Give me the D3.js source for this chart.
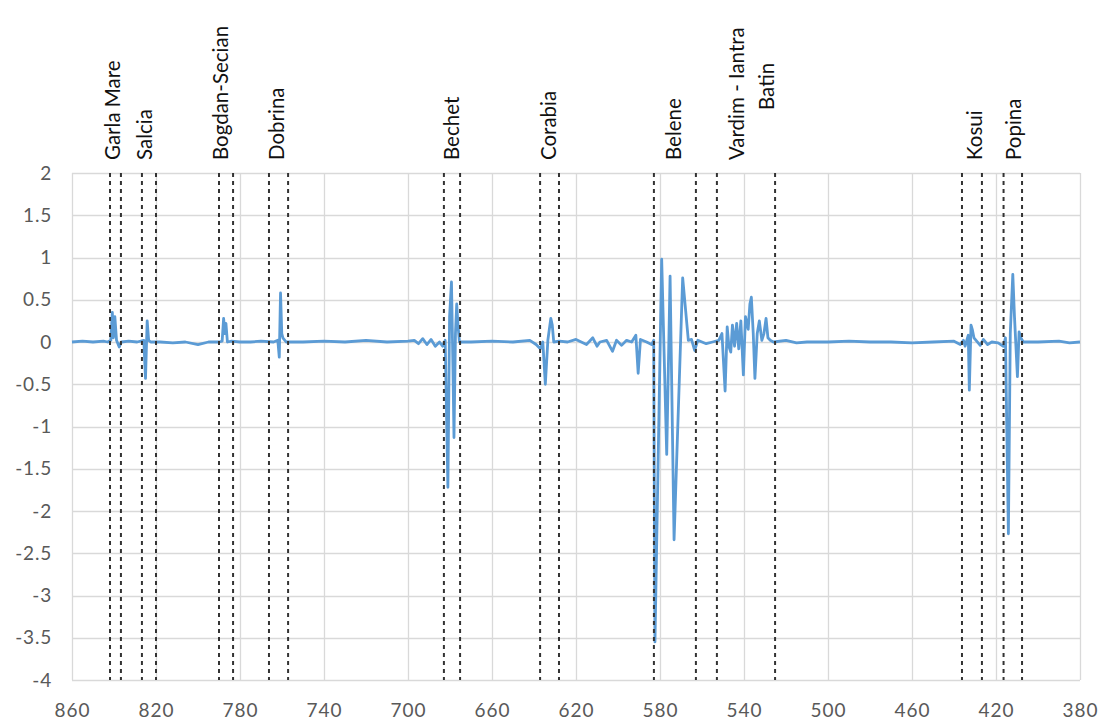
<!DOCTYPE html>
<html>
<head>
<meta charset="utf-8">
<script src="https://cdn.jsdelivr.net/npm/d3@7"></script>
<style>
  html, body { margin: 0; padding: 0; background: #fff; }
  svg { display: block; }
  .tick text { font-family: Lato, "Open Sans", sans-serif; fill: #595959; }
</style>
</head>
<body>
<svg id="chart" width="1102" height="724"></svg>
<script>
// river km (x) and bed level change (y)
const km = [
  860, 855, 850, 845, 843,
  841.5, 840.8, 840.3, 839.6, 838.8, 837.5, 836.5, 833, 829,
  825.8, 825.0, 824.2, 823.5, 822.5, 818, 812, 806, 800, 795, 790,
  788.5, 787.8, 787.2, 786.7, 786, 784, 780, 775, 770, 764,
  762, 761.3, 760.7, 760.1, 759.6, 758, 750, 740, 730, 720, 710, 700,
  697, 695, 693, 691, 689, 687, 685, 683.5,
  682.3, 681.0, 680.2, 679.3, 678.6, 678.1, 677.4, 676.8, 676.2, 675.5,
  670, 660, 650, 642, 639, 637, 635.8,
  634.6, 633.4, 632.0, 631.3, 630.6, 628, 624, 620, 615, 612, 610,
  608.6, 605.4, 602.6, 600.7, 598.3, 595.9, 593.5, 591.5, 590.4, 589.3, 586.4, 584.0,
  583.0, 582.4, 579.2, 576.8, 575.2, 573.3, 569.2, 566.5, 565, 563.5, 562, 558, 555, 552,
  550.5, 549.0, 548.0, 547.2, 546.3, 545.5, 544.5, 543.5, 542.5, 541.5, 540.3, 539.3,
  538, 537.2, 536.5, 535.6, 534.8, 533.7, 532.7, 531.5, 530.5, 529.5, 528.6, 527.5, 526,
  520, 515, 510, 500, 490, 480, 470, 460, 450, 440,
  437, 435.5, 434.7, 433.2, 432.7, 431.9, 431.3, 430.5, 429.5, 427.5, 426, 424, 422, 419,
  416.5, 415.5, 414.1, 413.2, 412.0, 411.2, 409.8, 409.0, 408.2, 407, 400, 390, 385, 380
];
const dz = [
  0, 0.01, 0, 0.01, 0,
  0.02, 0.35, 0.05, 0.3, 0.02, -0.06, 0, 0.01, 0,
  0.02, -0.43, 0.25, 0.02, 0, 0, -0.01, 0, -0.03, 0, 0,
  0.01, 0.28, 0.1, 0.22, 0, 0.01, 0, 0, 0.01, 0,
  0.02, -0.18, 0.58, 0.1, 0.05, 0, 0, 0.01, 0, 0.02, 0, 0.01,
  0.02, -0.02, 0.04, -0.03, 0.03, -0.05, 0, -0.05,
  0.02, -1.72, 0.3, 0.71, -0.3, -1.13, 0.1, 0.45, 0.2, 0,
  0, 0.01, 0, 0.02, -0.03, -0.08, 0,
  -0.5, 0.02, 0.28, 0.2, 0, 0.01, 0, 0.03, -0.03, 0.05, -0.05,
  0, 0.02, -0.11, 0.02, -0.04, 0.02, 0, 0.08, -0.37, 0.03, 0, -0.03,
  0.02, -3.55, 0.98, -1.33, 0.78, -2.34, 0.76, 0.02, 0.03, -0.1, 0.02, -0.02, 0, 0.02,
  0.1, -0.58, 0.18, -0.05, -0.12, 0.2, -0.05, 0.22, -0.08, 0.25, -0.39, 0.3,
  0.15, 0.45, 0.53, 0.1, -0.43, 0.1, 0.25, 0.02, 0.1, 0.28, 0.05, 0.02, 0,
  0.02, -0.01, 0, 0, 0.01, 0, 0, -0.01, 0, 0.01,
  -0.03, 0.02, -0.05, 0.08, -0.57, 0.2, 0.15, 0.05, 0.02, -0.04, 0.03, -0.03, 0, -0.01,
  -0.05, 0.05, -2.27, 0.1, 0.8, 0.3, -0.41, 0.12, 0.05, 0, 0, 0.01, -0.01, 0
];

// dashed reference lines (river km)
const bounds = [841.9, 836.7, 826.7, 820, 790, 783.3, 766.2, 757.1, 682.9, 675.2,
  637.1, 628.1, 582.9, 562.9, 552.9, 525.2, 436.2, 426.7, 416.4, 407.6];

// site names and km of their labels
const siteNames = ['Garla Mare', 'Salcia', 'Bogdan-Secian', 'Dobrina', 'Bechet', 'Corabia',
  'Belene', 'Vardim - Iantra', 'Batin', 'Kosui', 'Popina'];
const siteKm = [840.5, 825.2, 789.0, 762.4, 679.0, 632.9, 573.3, 543.3, 529.0, 430.0, 411.4];

const xTicks = d3.range(860, 379, -40);
const yTicks = d3.range(-4, 2.01, 0.5);

const margin = {top: 173, left: 72, right: 22, bottom: 44};
const svg = d3.select('#chart');
const W = +svg.attr('width'), H = +svg.attr('height');

const x = d3.scaleLinear().domain([860, 380]).range([margin.left, W - margin.right]);
const y = d3.scaleLinear().domain([-4, 2]).range([H - margin.bottom, margin.top]);

svg.append('rect').attr('width', W).attr('height', H).attr('fill', '#fff');

// grid
const grid = svg.append('g').attr('stroke', '#d9d9d9').attr('stroke-width', 1.3);
grid.selectAll('.hg').data(yTicks).join('line')
    .attr('x1', x(860)).attr('x2', x(380))
    .attr('y1', d => Math.round(y(d)) + 0.5).attr('y2', d => Math.round(y(d)) + 0.5);
grid.selectAll('.vg').data(xTicks).join('line')
    .attr('y1', y(2)).attr('y2', y(-4))
    .attr('x1', d => Math.round(x(d)) + 0.5).attr('x2', d => Math.round(x(d)) + 0.5);

// axes (labels only)
const yAxis = d3.axisLeft(y).tickValues(yTicks).tickSize(0).tickPadding(20)
    .tickFormat(d => String(+d.toFixed(1)));
svg.append('g').attr('transform', `translate(${margin.left},0)`).call(yAxis)
    .call(g => g.select('.domain').remove())
    .selectAll('text').style('font-size', '19px').style('letter-spacing', '0.8px');

const xAxis = d3.axisBottom(x).tickValues(xTicks).tickSize(0).tickPadding(24)
    .tickFormat(d => String(d));
svg.append('g').attr('transform', `translate(0,${y(-4)})`).call(xAxis)
    .call(g => g.select('.domain').remove())
    .selectAll('text').style('font-size', '19px').style('letter-spacing', '1px');

// series
const pts = km.map((k, i) => [k, dz[i]]);
const line = d3.line().x(d => x(d[0])).y(d => y(d[1]));
svg.append('path').datum(pts)
    .attr('d', line)
    .attr('fill', 'none')
    .attr('stroke', '#5b9bd5')
    .attr('stroke-width', 2.8)
    .attr('stroke-linejoin', 'round');

// dashed site boundaries
svg.append('g').selectAll('line').data(bounds).join('line')
    .attr('x1', d => x(d)).attr('x2', d => x(d))
    .attr('y1', y(2)).attr('y2', y(-4))
    .attr('stroke', '#333')
    .attr('stroke-width', 2)
    .attr('stroke-dasharray', '4,4');

// site labels
const lift = {'Batin': 50};
svg.append('g').selectAll('text').data(siteNames).join('text')
    .attr('transform', (d, i) => `translate(${x(siteKm[i]) + 7},${160 - (lift[d] || 0)}) rotate(-90)`)
    .attr('text-anchor', 'start')
    .style('font-family', 'Lato, "Open Sans", sans-serif')
    .style('font-size', '20.5px')
    .style('fill', '#111')
    .text(d => d);
</script>
</body>
</html>
